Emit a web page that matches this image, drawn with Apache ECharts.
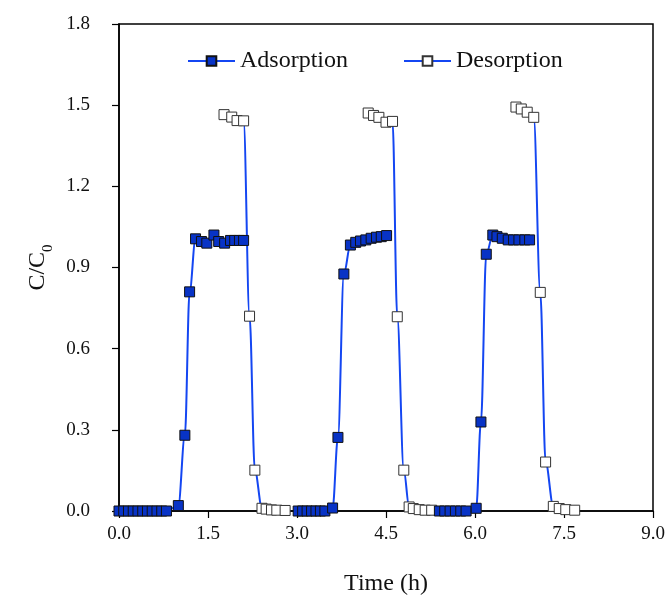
<!DOCTYPE html>
<html>
<head>
<meta charset="utf-8">
<script src="https://cdn.jsdelivr.net/npm/echarts@6/dist/echarts.min.js"></script>
<style>
html,body{margin:0;padding:0;background:#fff;}
#c{width:671px;height:595px;}
</style>
</head>
<body>
<div id="c"></div>
<script>
// ---- data (time in h, C/C0) ----
const ads1Time  = [0, 0.08, 0.16, 0.24, 0.32, 0.40, 0.48, 0.56, 0.64, 0.72, 0.80, 1.00, 1.11, 1.19, 1.29, 1.39, 1.48, 1.60, 1.68, 1.78, 1.88, 1.95, 2.03, 2.10];
const ads1Value = [0, 0, 0, 0, 0, 0, 0, 0, 0, 0, 0, 0.02, 0.28, 0.81, 1.006, 0.996, 0.99, 1.02, 0.996, 0.99, 1.0, 1.0, 1.0, 1.0];
const des1Time  = [1.77, 1.90, 1.99, 2.10, 2.20, 2.29, 2.41, 2.48, 2.57, 2.66, 2.80];
const des1Value = [1.465, 1.456, 1.443, 1.442, 0.72, 0.151, 0.01, 0.007, 0.004, 0.003, 0.002];

const ads2Time  = [3.02, 3.095, 3.17, 3.245, 3.32, 3.395, 3.47, 3.60, 3.69, 3.79, 3.90, 3.99, 4.07, 4.16, 4.25, 4.34, 4.42, 4.51];
const ads2Value = [0, 0, 0, 0, 0, 0, 0, 0.011, 0.272, 0.876, 0.983, 0.993, 0.998, 1.002, 1.008, 1.012, 1.014, 1.018];
const des2Time  = [4.20, 4.29, 4.38, 4.50, 4.61, 4.69, 4.80, 4.89, 4.96, 5.06, 5.16, 5.27];
const des2Value = [1.471, 1.462, 1.455, 1.437, 1.44, 0.718, 0.151, 0.015, 0.009, 0.005, 0.003, 0.003];

const ads3Time  = [5.40, 5.49, 5.58, 5.67, 5.76, 5.85, 6.02, 6.10, 6.19, 6.30, 6.37, 6.46, 6.56, 6.65, 6.74, 6.84, 6.92];
const ads3Value = [0, 0, 0, 0, 0, 0, 0.01, 0.329, 0.949, 1.02, 1.014, 1.008, 1.002, 1.002, 1.002, 1.002, 1.002];
const des3Time  = [6.69, 6.78, 6.88, 6.99, 7.10, 7.19, 7.32, 7.42, 7.53, 7.68];
const des3Value = [1.493, 1.486, 1.474, 1.455, 0.808, 0.181, 0.017, 0.009, 0.005, 0.003];

const xTicks = [0, 1.5, 3.0, 4.5, 6.0, 7.5, 9.0];
const yTicks = [0, 0.3, 0.6, 0.9, 1.2, 1.5, 1.8];

// ---- styles ----
const FONT = 'Liberation Serif';
const LINE = '#1446F2';
const FILL = '#0833C6';

function pairs(t, v) { return t.map((x, i) => [x, v[i]]); }

function mkSeries(name, t, v, filled) {
  return {
    name: name,
    type: 'line',
    data: pairs(t, v),
    smooth: 0.35,
    smoothMonotone: 'x',
    symbol: 'rect',
    symbolSize: 10,
    showAllSymbol: true,
    lineStyle: { color: LINE, width: 2 },
    itemStyle: filled
      ? { color: FILL, borderColor: '#111', borderWidth: 1 }
      : { color: '#fff', borderColor: '#333', borderWidth: 1 },
    emphasis: { disabled: true },
    animation: false
  };
}

const chart = echarts.init(document.getElementById('c'), null, { renderer: 'canvas' });
chart.setOption({
  backgroundColor: '#fff',
  animation: false,
  textStyle: { fontFamily: FONT },
  grid: {
    left: 119, right: 18, top: 24, bottom: 84,
    outerBoundsMode: 'none', containLabel: false,
    show: true, borderColor: '#000', borderWidth: 1.5, backgroundColor: 'transparent'
  },
  legend: {
    data: ['Adsorption', 'Desorption'],
    left: 187, top: 49, padding: 0,
    itemWidth: 47, itemHeight: 12, itemGap: 55,
    textStyle: { fontFamily: FONT, fontSize: 24, color: '#111' }
  },
  xAxis: {
    type: 'value', min: 0, max: 9, interval: 1.5,
    name: 'Time (h)', nameLocation: 'middle', nameGap: 61,
    nameTextStyle: { fontFamily: FONT, fontSize: 24, color: '#111' },
    axisLine: { lineStyle: { color: '#000', width: 1.5 } },
    axisTick: { show: true, inside: false, length: 7, lineStyle: { color: '#000', width: 1.2 } },
    axisLabel: { fontFamily: FONT, fontSize: 19, color: '#111', margin: 14,
      formatter: v => xTicks.indexOf(v) >= 0 ? v.toFixed(1) : '' },
    splitLine: { show: false }
  },
  yAxis: {
    type: 'value', min: 0, max: 1.8, interval: 0.3,
    name: '{a|C/C}{b|0}', nameLocation: 'middle', nameGap: 66,
    nameTextStyle: {
      fontFamily: FONT, fontSize: 24, color: '#111',
      rich: {
        a: { fontFamily: FONT, fontSize: 24, color: '#111', lineHeight: 28, verticalAlign: 'bottom' },
        b: { fontFamily: FONT, fontSize: 15, color: '#111', lineHeight: 28, verticalAlign: 'bottom', padding: [0, 0, -6, 0] }
      }
    },
    axisLine: { lineStyle: { color: '#000', width: 1.5 } },
    axisTick: { show: true, inside: false, length: 7, lineStyle: { color: '#000', width: 1.2 } },
    axisLabel: { fontFamily: FONT, fontSize: 19, color: '#111', margin: 29,
      formatter: v => { const r = Math.round(v * 10) / 10; return yTicks.indexOf(r) >= 0 ? r.toFixed(1) : ''; } },
    splitLine: { show: false }
  },
  series: [
    mkSeries('Adsorption', ads1Time, ads1Value, true),
    mkSeries('Desorption', des1Time, des1Value, false),
    mkSeries('Adsorption', ads2Time, ads2Value, true),
    mkSeries('Desorption', des2Time, des2Value, false),
    mkSeries('Adsorption', ads3Time, ads3Value, true),
    mkSeries('Desorption', des3Time, des3Value, false)
  ]
});
</script>
</body>
</html>
